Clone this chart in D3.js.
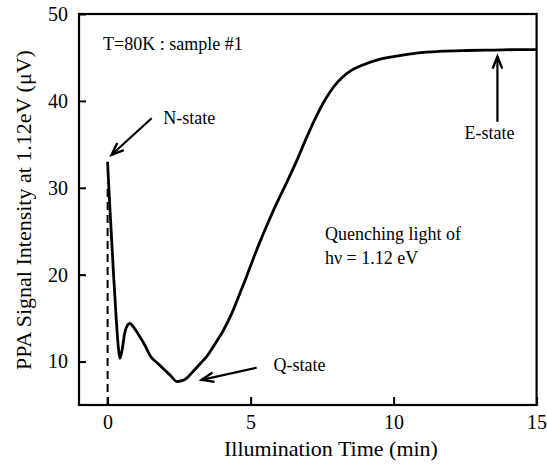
<!DOCTYPE html>
<html lang="en">
<head>
  <meta charset="UTF-8">
  <title>PPA signal</title>
  <style>
    body{ margin:0; background:#fff; }
    svg text{ font-family: "Liberation Serif", "DejaVu Serif", serif; fill:#000; }
  </style>
</head>
<body>
<svg width="547" height="465"></svg>

<script src="https://cdn.jsdelivr.net/npm/d3@7"></script>
<script>
  // data
  var time = [0, 0.02, 0.1, 0.2, 0.3, 0.38, 0.43, 0.5, 0.6, 0.7, 0.78, 0.9, 1.1, 1.3, 1.5, 1.75, 2.0, 2.2, 2.42, 2.6,
    2.77, 3.0, 3.25, 3.47, 3.75, 4.05, 4.35, 4.63, 4.86, 5.1, 5.33, 5.56, 5.91, 6.26, 6.61, 6.96, 7.31, 7.6, 7.9, 8.2,
    8.47, 8.9, 9.41, 10.0, 10.8, 11.6, 12.56, 13.5, 14.3, 15];
  var signal = [33.0, 31.5, 26.5, 20.5, 15.0, 11.5, 10.4, 11.2, 13.3, 14.2, 14.4, 14.0, 13.0, 11.9, 10.6, 9.8, 9.0, 8.4, 7.7, 7.8,
    8.1, 8.9, 9.8, 10.6, 12.0, 13.6, 15.6, 17.9, 19.8, 21.9, 23.8, 25.6, 28.2, 30.6, 33.1, 35.8, 38.3, 40.1, 41.6, 42.7,
    43.4, 44.1, 44.7, 45.1, 45.5, 45.7, 45.8, 45.85, 45.9, 45.9];
  var xMajor = [0, 5, 10, 15];
  var xMinor = [1, 2, 3, 4, 6, 7, 8, 9, 11, 12, 13, 14];
  var yTicks = [10, 20, 30, 40, 50];

  // annotations, in data units
  var arrows = [
    {from: [1.54, 38.0], to: [0.14, 33.8]},   // N-state
    {from: [5.21, 9.3], to: [3.29, 7.9]},     // Q-state
    {from: [13.63, 37.6], to: [13.63, 45.1]}  // E-state
  ];
  var labels = [
    {x: 1.95, y: 37.3, text: "N-state", anchor: "start"},
    {x: 5.8, y: 8.9, text: "Q-state", anchor: "start"},
    {x: 13.35, y: 35.6, text: "E-state", anchor: "middle"},
    {x: -0.16, y: 45.9, text: "T=80K : sample #1", anchor: "start"},
    {x: 7.6, y: 24.0, text: "Quenching light of", anchor: "start"},
    {x: 7.6, y: 21.2, text: "h\u03bd = 1.12 eV", anchor: "start"}
  ];

  var svg = d3.select('svg');
  var x = d3.scaleLinear().domain([-1, 15]).range([79, 536.6]);
  var y = d3.scaleLinear().domain([5, 50]).range([405, 14]);

  // frame
  svg.append('rect')
    .attr('x', x(-1)).attr('y', y(50))
    .attr('width', x(15) - x(-1)).attr('height', y(5) - y(50))
    .attr('fill', 'none').attr('stroke', '#000').attr('stroke-width', 2.2);

  // x axis: major and minor ticks, pointing inward
  var gx = svg.append('g').attr('transform', `translate(0, ${y(5)})`);
  gx.call(d3.axisBottom(x).tickValues(xMinor).tickSize(-5).tickFormat(''));
  gx.call(d3.axisBottom(x).tickValues(xMajor).tickSize(-8).tickPadding(10).tickFormat(d3.format('d')));
  gx.selectAll('.domain').remove();
  gx.selectAll('line').attr('stroke-width', 2);
  gx.selectAll('text').attr('font-size', 20).attr('font-family', '"Liberation Serif", serif');

  // y axis
  var gy = svg.append('g').attr('transform', `translate(${x(-1)}, 0)`);
  gy.call(d3.axisLeft(y).tickValues(yTicks).tickSize(-7).tickPadding(11).tickFormat(d3.format('d')));
  gy.selectAll('.domain').remove();
  gy.selectAll('line').attr('stroke-width', 2);
  gy.selectAll('text').attr('font-size', 20).attr('font-family', '"Liberation Serif", serif');

  // axis titles
  svg.append('text')
    .attr('x', 331).attr('y', 456)
    .attr('text-anchor', 'middle').attr('font-size', 22)
    .text('Illumination Time (min)');
  svg.append('text')
    .attr('transform', `translate(31, 210) rotate(-90)`)
    .attr('text-anchor', 'middle').attr('font-size', 22)
    .text('PPA Signal Intensity at 1.12eV (\u03bcV)');

  // dashed line at t = 0
  svg.append('line')
    .attr('x1', x(0)).attr('x2', x(0))
    .attr('y1', y(5)).attr('y2', y(30.5))
    .attr('stroke', '#000').attr('stroke-width', 2)
    .attr('stroke-dasharray', '8,5');

  // curve
  var pts = time.map(function (t, i) { return [t, signal[i]]; });
  var line = d3.line()
    .x(function (d) { return x(d[0]); })
    .y(function (d) { return y(d[1]); })
    .curve(d3.curveMonotoneX);
  svg.append('path').datum(pts)
    .attr('d', line)
    .attr('fill', 'none').attr('stroke', '#000')
    .attr('stroke-width', 2.8).attr('stroke-linejoin', 'round');

  // arrows
  arrows.forEach(function (a) {
    var x1 = x(a.from[0]), y1 = y(a.from[1]), x2 = x(a.to[0]), y2 = y(a.to[1]);
    var ang = Math.atan2(y2 - y1, x2 - x1), L = 13, w = 0.38;
    svg.append('line')
      .attr('x1', x1).attr('y1', y1).attr('x2', x2).attr('y2', y2)
      .attr('stroke', '#000').attr('stroke-width', 2.2);
    var p1 = [x2 - L * Math.cos(ang - w), y2 - L * Math.sin(ang - w)];
    var p2 = [x2 - L * Math.cos(ang + w), y2 - L * Math.sin(ang + w)];
    svg.append('path')
      .attr('d', `M${p1[0]},${p1[1]}L${x2},${y2}L${p2[0]},${p2[1]}`)
      .attr('fill', 'none').attr('stroke', '#000').attr('stroke-width', 2.4)
      .attr('stroke-linejoin', 'miter');
  });

  // text labels
  svg.append('g').selectAll('text').data(labels).enter().append('text')
    .attr('x', function (d) { return x(d.x); })
    .attr('y', function (d) { return y(d.y); })
    .attr('text-anchor', function (d) { return d.anchor; })
    .attr('font-size', 18)
    .text(function (d) { return d.text; });
</script>
</body>
</html>
